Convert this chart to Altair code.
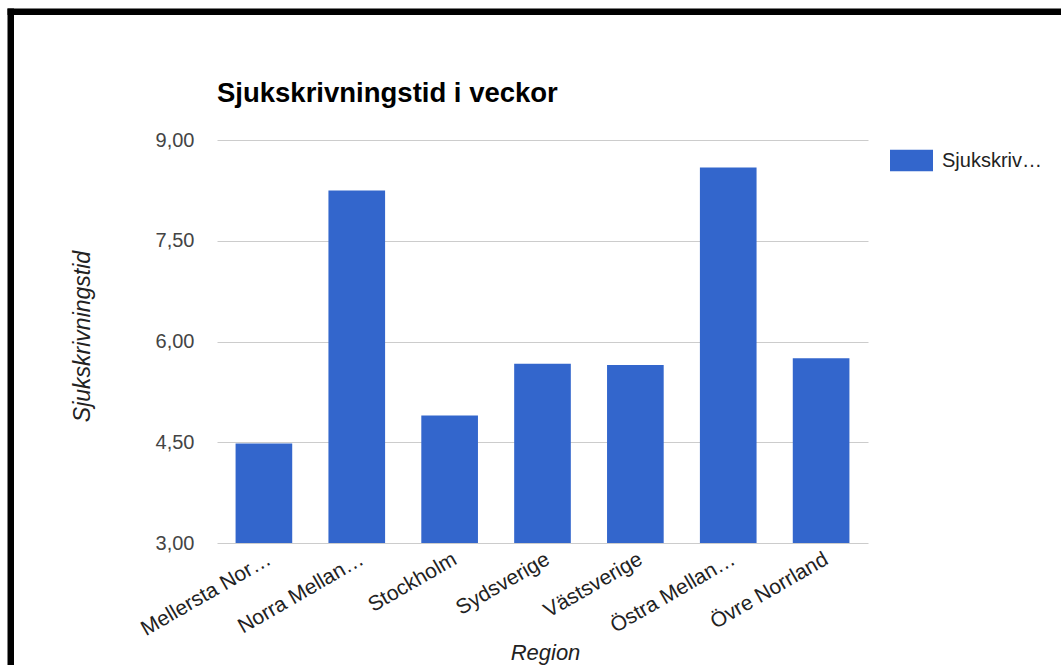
import altair as alt
import pandas as pd

# Data
regions = ["Mellersta Nor…", "Norra Mellan…", "Stockholm", "Sydsverige",
           "Västsverige", "Östra Mellan…", "Övre Norrland"]
values = [4.48, 8.25, 4.90, 5.67, 5.65, 8.59, 5.75]
series_name = "Sjukskriv…"
chart_title = "Sjukskrivningstid i veckor"
y_ticks = [3.0, 4.5, 6.0, 7.5, 9.0]

df = pd.DataFrame({"Region": regions, "Value": values,
                   "Serie": [series_name] * len(regions)})

FONT = "Liberation Sans"
BLUE = "#3366cc"

bars = alt.Chart(df).mark_bar(color=BLUE).encode(
    x=alt.X("Region:N", sort=regions,
            scale=alt.Scale(paddingInner=0.39, paddingOuter=0.2),
            axis=alt.Axis(title="Region", labelAngle=-30, labelAlign="right",
                          labelBaseline="top", labelPadding=5, ticks=False,
                          domain=False, labelFont=FONT, labelFontSize=21,
                          labelColor="#222222", labelLimit=300,
                          titleFont=FONT, titleFontSize=22, titleFontStyle="italic",
                          titleFontWeight="normal", titleColor="#222222",
                          titleX=328, titleY=116, titleAlign="center",
                          titleBaseline="alphabetic")),
    y=alt.Y("Value:Q", scale=alt.Scale(domain=[3, 9], zero=False, nice=False),
            axis=alt.Axis(title="Sjukskrivningstid", values=y_ticks,
                          labelExpr="replace(format(datum.value, '.2f'), '.', ',')",
                          ticks=False, domain=False, labelPadding=23,
                          labelFont=FONT, labelFontSize=20, labelColor="#444444",
                          gridColor="#cccccc", gridWidth=1,
                          titleFont=FONT, titleFontSize=23, titleFontStyle="italic",
                          titleFontWeight="normal", titleColor="#222222",
                          titleAngle=-90, titleX=-128, titleY=196,
                          titleAlign="center", titleBaseline="alphabetic")),
    y2=alt.datum(3),
    color=alt.Color("Serie:N",
                    scale=alt.Scale(domain=[series_name], range=[BLUE]),
                    legend=alt.Legend(title=None, orient="none", legendX=673, legendY=-1,
                                      symbolType="M-1,-0.5H1V0.5H-1Z", symbolSize=1849,
                                      symbolStrokeWidth=0, symbolOpacity=1,
                                      labelFont=FONT, labelFontSize=20,
                                      labelColor="#222222", labelOffset=9,
                                      padding=0, labelLimit=300)),
)

single = pd.DataFrame({"k": [0]})
title_mark = alt.Chart(single).mark_text(
    align="left", baseline="alphabetic", font=FONT, fontSize=27.5,
    fontWeight="bold", color="#000000").encode(
    x=alt.value(0), y=alt.value(-38), text=alt.value(chart_title))

top_border = alt.Chart(single).mark_rule(color="black", strokeWidth=6.5, strokeCap="butt").encode(
    x=alt.value(-209.5), x2=alt.value(844), y=alt.value(-128.25), y2=alt.value(-128.25))
left_border = alt.Chart(single).mark_rule(color="black", strokeWidth=6.5, strokeCap="butt").encode(
    x=alt.value(-206.25), x2=alt.value(-206.25), y=alt.value(-131.5), y2=alt.value(525))

chart = alt.layer(bars, title_mark, top_border, left_border).properties(
    width=651, height=403,
    autosize=alt.AutoSizeParams(type="none"),
    padding={"left": 217, "top": 140, "right": 193, "bottom": 122},
    background="white",
).configure_view(strokeWidth=0)

chart.save("out.html", embed_options={"renderer": "svg", "actions": False})
